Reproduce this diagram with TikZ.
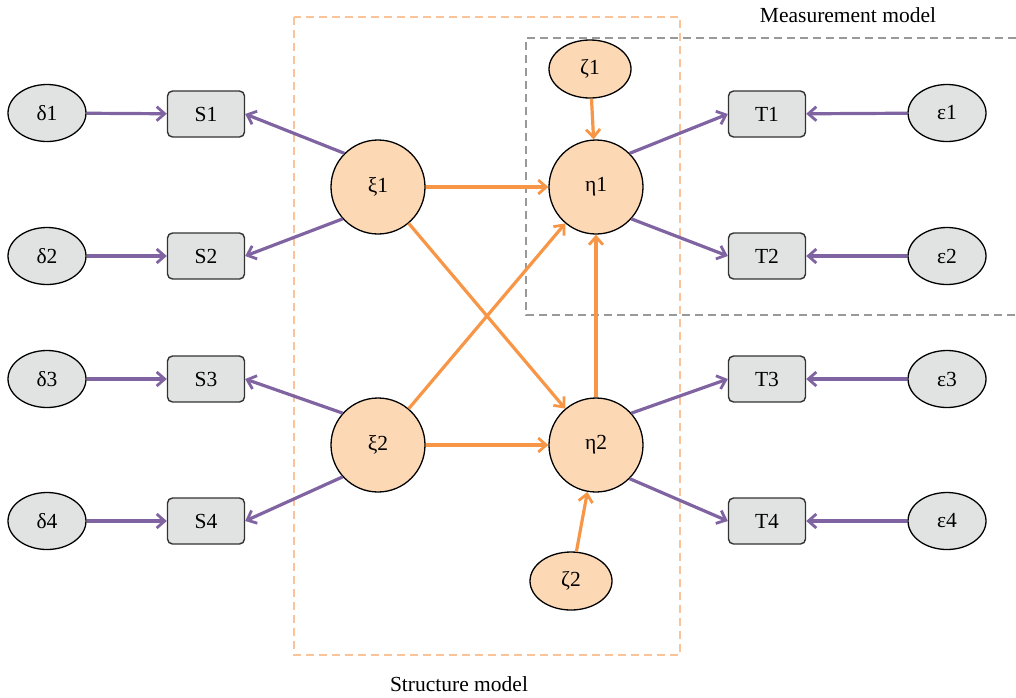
\documentclass[tikz,border=0pt]{standalone}
\usepackage{fontspec}
\setmainfont{Liberation Serif}
\usetikzlibrary{shapes.geometric,arrows.meta}
\definecolor{purp}{HTML}{8064A2}
\definecolor{orng}{HTML}{F79646}
\definecolor{lorng}{HTML}{FCD9B4}
\definecolor{dorng}{HTML}{FBC39A}
\definecolor{gfill}{HTML}{E1E3E3}
\definecolor{gline}{HTML}{999999}
\begin{document}
\begin{tikzpicture}[x=1pt,y=-1pt,
  font=\fontsize{21.5}{24}\selectfont,
  errell/.style={ellipse,draw=black,line width=1.3pt,fill=gfill,minimum width=78pt,minimum height=57pt,inner sep=0pt},
  obsbox/.style={rectangle,rounded corners=5pt,draw=black!80,line width=1.4pt,fill=gfill,minimum width=77pt,minimum height=46pt,inner sep=0pt},
  latent/.style={circle,draw=black,line width=1.3pt,fill=lorng,minimum size=94pt,inner sep=0pt},
  distell/.style={ellipse,draw=black,line width=1.3pt,fill=lorng,minimum width=82pt,minimum height=58pt,inner sep=0pt},
  parr/.style={draw=purp,line width=3.2pt,-{Straight Barb[length=8pt,width=14pt,line width=2.8pt]}},
  oarr/.style={draw=orng,line width=3.2pt,-{Straight Barb[length=8pt,width=14pt,line width=2.8pt]}},
  obox/.style={draw=dorng,line width=1.4pt,dash pattern=on 8pt off 5pt},
  gbox/.style={draw=gline,line width=1.2pt,dash pattern=on 8pt off 5pt},
  lbl/.style={inner sep=0pt}
]
\useasboundingbox (0,0) rectangle (1016,697);
% boxes
\draw[obox] (294,17) rectangle (680,655);
\coordinate (g1) at (1016,38);
\coordinate (g2) at (526,38);
\coordinate (g3) at (526,315);
\coordinate (g4) at (1016,315);
\draw[gbox] (g1) -- (g2) -- (g3) -- (g4);
\node[lbl] (mm) at (848,15) {Measurement model};
\node[lbl] (sm) at (459,684) {Structure model};
% error ellipses
\node[errell] (d1) at (47,113) {δ1};
\node[errell] (d2) at (47,256) {δ2};
\node[errell] (d3) at (47,379) {δ3};
\node[errell] (d4) at (47,521) {δ4};
\node[errell] (e1) at (947,113) {ε1};
\node[errell] (e2) at (947,256) {ε2};
\node[errell] (e3) at (947,379) {ε3};
\node[errell] (e4) at (947,521) {ε4};
% observed
\node[obsbox] (s1) at (206,114) {S1};
\node[obsbox] (s2) at (206,256) {S2};
\node[obsbox] (s3) at (206,379) {S3};
\node[obsbox] (s4) at (206,521) {S4};
\node[obsbox] (t1) at (767,114) {T1};
\node[obsbox] (t2) at (767,256) {T2};
\node[obsbox] (t3) at (767,379) {T3};
\node[obsbox] (t4) at (767,521) {T4};
% latent
\node[latent] (x1) at (378,187) {ξ1};
\node[latent] (x2) at (378,445) {ξ2};
\node[latent] (h1) at (596,187) {η1};
\node[latent] (h2) at (596,445) {η2};
\node[distell] (z1) at (590,69) {ζ1};
\node[distell] (z2) at (571,581) {ζ2};
% purple arrows
\draw[parr] (d1) -- (s1);
\draw[parr] (d2) -- (s2);
\draw[parr] (d3) -- (s3);
\draw[parr] (d4) -- (s4);
\draw[parr] (e1) -- (t1);
\draw[parr] (e2) -- (t2);
\draw[parr] (e3) -- (t3);
\draw[parr] (e4) -- (t4);
\draw[parr] (x1.135) -- (s1.east);
\draw[parr] (x1.222) -- (s2.east);
\draw[parr] (x2.138) -- (s3.east);
\draw[parr] (x2.222) -- (s4.east);
\draw[parr] (h1.45) -- (t1.west);
\draw[parr] (h1.-42) -- (t2.west);
\draw[parr] (h2.42) -- (t3.west);
\draw[parr] (h2.-45) -- (t4.west);
% orange arrows
\draw[oarr] (x1.east) -- (h1.west);
\draw[oarr] (x2.east) -- (h2.west);
\draw[oarr] (x1) -- (h2);
\draw[oarr] (x2) -- (h1);
\draw[oarr] (h2) -- (h1);
\draw[oarr] (z1) -- (h1);
\draw[oarr] (z2) -- (h2);
\end{tikzpicture}
\end{document}
